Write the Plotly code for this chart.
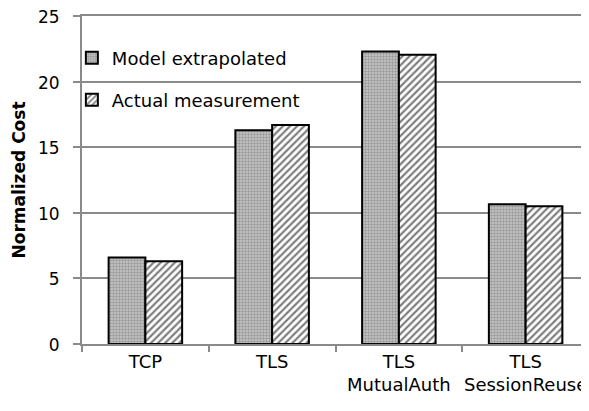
import plotly.graph_objects as go

categories = ["TCP", "TLS", "TLS<br>MutualAuth", "TLS<br>SessionReuse"]
model_extrapolated = [6.6, 16.3, 22.3, 10.65]
actual_measurement = [6.3, 16.7, 22.05, 10.5]
y_ticks = [0, 5, 10, 15, 20, 25]

FONT = "DejaVu Sans"
GRID = "#8a8a8a"
FS = 18

fig = go.Figure()
fig.add_trace(go.Bar(
    x=categories, y=model_extrapolated, name="Model extrapolated",
    marker=dict(color="#b8b8b8", line=dict(color="black", width=2),
                pattern=dict(shape=".", size=3, solidity=0.5, fgcolor="#6a6a6a", bgcolor="#c8c8c8")),
    legend="legend",
))
fig.add_trace(go.Bar(
    x=categories, y=actual_measurement, name="Actual measurement",
    marker=dict(color="white", line=dict(color="black", width=2),
                pattern=dict(shape="/", size=5, solidity=0.45, fgcolor="black", bgcolor="white")),
    legend="legend2",
))

fig.update_layout(
    width=581, height=403,
    margin=dict(l=74, r=0, t=8, b=67, autoexpand=False),
    paper_bgcolor="white", plot_bgcolor="white",
    barmode="group", bargap=0.42, bargroupgap=0,
    font=dict(family=FONT, size=FS, color="black"),
    showlegend=True,
    legend=dict(x=-0.02, y=0.872, xanchor="left", yanchor="middle",
                bgcolor="rgba(0,0,0,0)", font=dict(size=FS), itemwidth=30),
    legend2=dict(x=-0.02, y=0.744, xanchor="left", yanchor="middle",
                 bgcolor="rgba(0,0,0,0)", font=dict(size=FS), itemwidth=30),
)
fig.update_xaxes(
    showline=True, mirror=True, linecolor=GRID, linewidth=2, automargin=False,
    ticks="outside", tickson="boundaries", ticklen=6, tickcolor=GRID, tickwidth=2,
    tickfont=dict(size=FS), showgrid=False, tickangle=0,
)
fig.update_yaxes(
    range=[0, 25], tickvals=y_ticks, automargin=False,
    showline=True, linecolor=GRID, linewidth=2,
    ticks="outside", ticklen=7, tickcolor=GRID, tickwidth=2, ticklabelstandoff=10,
    ticklabeloverflow="allow", ticklabelshift=1,
    showgrid=True, gridcolor=GRID, gridwidth=2, zeroline=False,
    tickfont=dict(size=17),
    title=dict(text="<b>Normalized Cost</b>", font=dict(size=17), standoff=8),
)

fig.write_html("out.html")
